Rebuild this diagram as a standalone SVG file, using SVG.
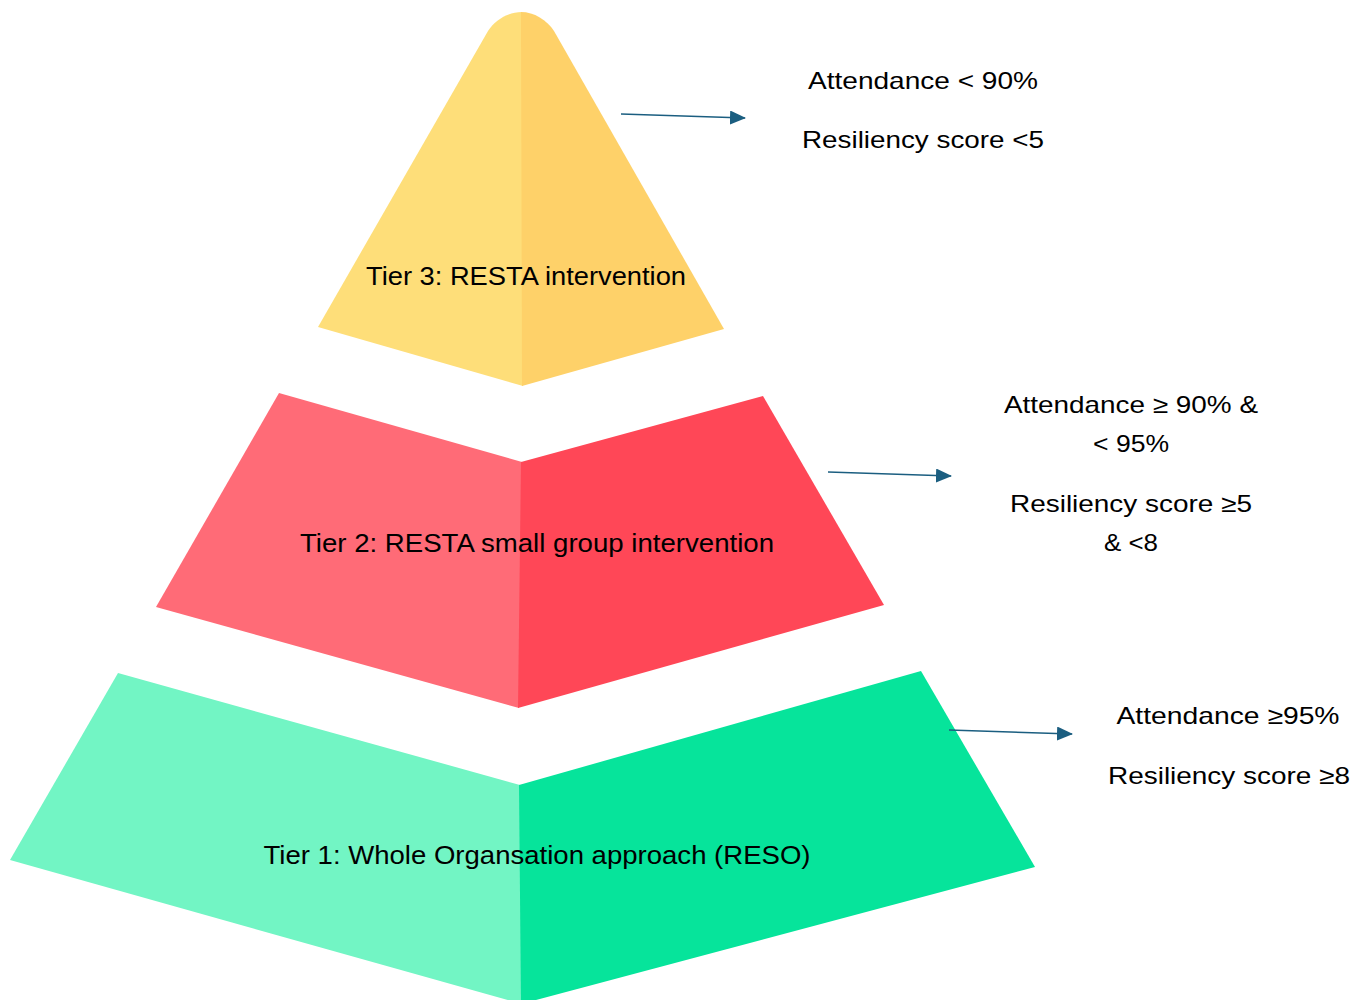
<svg xmlns="http://www.w3.org/2000/svg" width="1368" height="1000" viewBox="0 0 1368 1000">
<defs>
<style>
.lbl{font-family:"Liberation Sans","Open Sans",Arial,sans-serif;font-size:26px;fill:#000;text-anchor:middle}
.crit{font-family:"Liberation Sans","Open Sans",Arial,sans-serif;font-size:24px;fill:#000;text-anchor:middle}
.conn{stroke:#1B5E80;stroke-width:1.5;fill:none;marker-end:url(#ah)}
</style>
<marker id="ah" markerWidth="16" markerHeight="14" refX="15" refY="7" orient="auto" markerUnits="userSpaceOnUse">
<path d="M0,0 L16,7 L0,14 Z" fill="#1B5E80"/>
</marker>
</defs>
<rect width="1368" height="1000" fill="#fff"/>
<g id="tier3">
<path d="M318,327 L488,31 C495,20 508,12 522,12 L523,386 Z" fill="#FEDE79"/>
<path d="M521,12 C534,12 547,20 554,31 L724,329 L522,386 Z" fill="#FED169"/>
<text class="lbl" x="526" y="285" textLength="320" lengthAdjust="spacingAndGlyphs">Tier 3: RESTA intervention</text>
</g>
<g id="tier2">
<path d="M279,393 L522,462 L519,708 L156,607 Z" fill="#FF6B77"/>
<path d="M521,462 L763,396 L884,605 L518,708 Z" fill="#FF4757"/>
<text class="lbl" x="537" y="552" textLength="474" lengthAdjust="spacingAndGlyphs">Tier 2: RESTA small group intervention</text>
</g>
<g id="tier1">
<path d="M118,673 L520,785 L522,1004 L10,860 Z" fill="#72F5C4"/>
<path d="M519,785 L921,671 L1035,867 L521,1004 Z" fill="#06E49B"/>
<text class="lbl" x="537" y="864" textLength="547" lengthAdjust="spacingAndGlyphs">Tier 1: Whole Organsation approach (RESO)</text>
</g>
<g id="criteria3">
<text class="crit" x="923" y="89" textLength="230" lengthAdjust="spacingAndGlyphs">Attendance &lt; 90%</text>
<text class="crit" x="923" y="148" textLength="242" lengthAdjust="spacingAndGlyphs">Resiliency score &lt;5</text>
</g>
<g id="criteria2">
<text class="crit" x="1131" y="413" textLength="254" lengthAdjust="spacingAndGlyphs">Attendance ≥ 90% &amp;</text>
<text class="crit" x="1131" y="452" textLength="76" lengthAdjust="spacingAndGlyphs">&lt; 95%</text>
<text class="crit" x="1131" y="512" textLength="242" lengthAdjust="spacingAndGlyphs">Resiliency score ≥5</text>
<text class="crit" x="1131" y="551" textLength="54" lengthAdjust="spacingAndGlyphs">&amp; &lt;8</text>
</g>
<g id="criteria1">
<text class="crit" x="1228" y="724" textLength="223" lengthAdjust="spacingAndGlyphs">Attendance ≥95%</text>
<text class="crit" x="1229" y="784" textLength="242" lengthAdjust="spacingAndGlyphs">Resiliency score ≥8</text>
</g>
<g id="connectors">
<line class="conn" x1="621" y1="114" x2="745" y2="118"/>
<line class="conn" x1="828" y1="472" x2="951" y2="476"/>
<line class="conn" x1="949" y1="730" x2="1072" y2="734"/>
</g>
</svg>
